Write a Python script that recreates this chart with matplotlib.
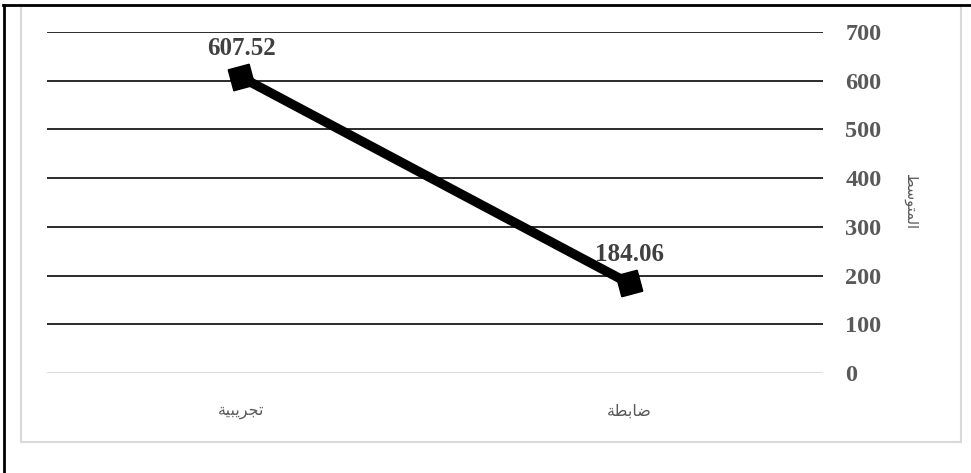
import matplotlib
matplotlib.use("Agg")
import matplotlib.pyplot as plt
from matplotlib.lines import Line2D
from matplotlib.patches import Rectangle

# data
groups = ["تجريبية", "ضابطة"]
means = [607.52, 184.06]
y_ticks = [0, 100, 200, 300, 400, 500, 600, 700]
y_label = "المتوسط"

# minimal arabic shaping (matplotlib has no complex text layout)
# letter: (isolated, final, initial, medial)
FORMS = {
    'ا': ('\uFE8D', '\uFE8E', None, None),
    'ب': ('\uFE8F', '\uFE90', '\uFE91', '\uFE92'),
    'ة': ('\uFE93', '\uFE94', None, None),
    'ت': ('\uFE95', '\uFE96', '\uFE97', '\uFE98'),
    'ج': ('\uFE9D', '\uFE9E', '\uFE9F', '\uFEA0'),
    'ر': ('\uFEAD', '\uFEAE', None, None),
    'س': ('\uFEB1', '\uFEB2', '\uFEB3', '\uFEB4'),
    'ض': ('\uFEBD', '\uFEBE', '\uFEBF', '\uFEC0'),
    'ط': ('\uFEC1', '\uFEC2', '\uFEC3', '\uFEC4'),
    'ل': ('\uFEDD', '\uFEDE', '\uFEDF', '\uFEE0'),
    'م': ('\uFEE1', '\uFEE2', '\uFEE3', '\uFEE4'),
    'و': ('\uFEED', '\uFEEE', None, None),
    'ي': ('\uFEF1', '\uFEF2', '\uFEF3', '\uFEF4'),
}


def shape(word):
    out = []
    n = len(word)
    for i, ch in enumerate(word):
        iso, fin, ini, med = FORMS[ch]
        prev_joins = i > 0 and FORMS[word[i - 1]][2] is not None
        has_next = i < n - 1
        if prev_joins and has_next and med:
            out.append(med)
        elif prev_joins:
            out.append(fin)
        elif has_next and ini:
            out.append(ini)
        else:
            out.append(iso)
    return "".join(reversed(out))


W, H = 971, 473
fig = plt.figure(figsize=(W / 100, H / 100), dpi=100)

ax = fig.add_axes([47 / W, (H - 373) / H, 776 / W, 341 / H])
x = range(len(groups))
ax.plot(x, means, color="black", lw=6.8, marker=(4, 0, 60), ms=22,
        solid_capstyle="butt", zorder=5)
ax.set_xlim(-0.5, len(groups) - 0.5)
ax.set_ylim(0, 700)

for i, v in zip(x, means):
    ax.annotate(f"{v:.2f}", (i, v), xytext=(0, 16), textcoords="offset points",
                ha="center", va="baseline", fontsize=18, fontweight="bold",
                family="Liberation Serif", color="#404040", zorder=6)

ax.yaxis.tick_right()
ax.set_yticks(y_ticks)
ax.set_yticklabels([str(t) for t in y_ticks], family="Liberation Serif",
                   fontweight="bold", fontsize=17.5, color="#595959")
ax.tick_params(axis="y", length=0, pad=16)
for t in y_ticks:
    ax.axhline(t, color="#d9d9d9" if t == 0 else "#1a1a1a",
               lw=1.3, zorder=1)

ax.set_xticks(list(x))
ax.set_xticklabels([shape(g) for g in groups], family="DejaVu Sans",
                   fontsize=11.5, color="#595959")
ax.tick_params(axis="x", length=0, pad=22)
for s in ax.spines.values():
    s.set_visible(False)

fig.text(910 / W, 1 - 202 / H, shape(y_label), rotation=-90, ha="center",
         va="center", family="DejaVu Sans", fontsize=10.5, color="#595959")

# chart area frame and outer black border
fig.patches.append(Rectangle((21 / W, 1 - 442 / H), 940 / W, 436 / H,
                             transform=fig.transFigure, fill=False,
                             ec="#d9d9d9", lw=1.5))
fig.lines.append(Line2D([3 / W, 1], [1 - 5 / H, 1 - 5 / H],
                        transform=fig.transFigure, color="black", lw=2))
fig.lines.append(Line2D([4 / W, 4 / W], [0, 1 - 5 / H],
                        transform=fig.transFigure, color="black", lw=2))

fig.savefig("out.png", dpi=100, facecolor="white")
